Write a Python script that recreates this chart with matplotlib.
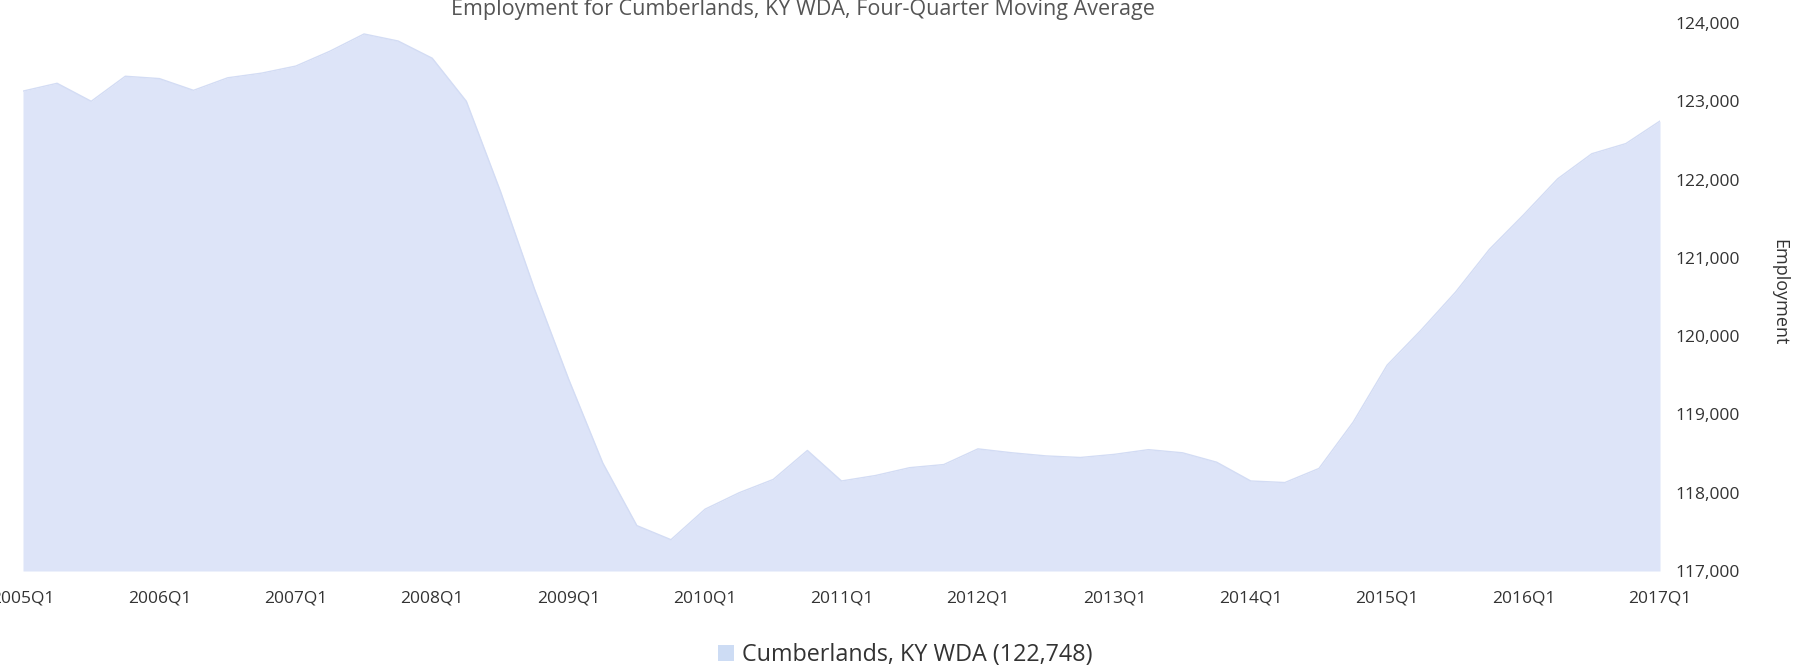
import matplotlib
matplotlib.use("Agg")
import matplotlib.pyplot as plt
from matplotlib.pyplot import rcParams
from matplotlib.patches import Patch

# use a humanist sans similar to the original web chart
rcParams["font.family"] = ["Open Sans", "DejaVu Sans"]

# quarter labels shown on the x axis (every fourth quarter)
years = list(range(2005, 2018))
tick_labels = [f"{y}Q1" for y in years]

# four-quarter moving average of employment, 2005Q1 .. 2017Q1
employment = [
  123130, 123230, 123000, 123320,  # 2005
  123290, 123140, 123300, 123360,  # 2006
  123450, 123640, 123860, 123770,  # 2007
  123550, 123000, 121850, 120600,  # 2008
  119450, 118380, 117580, 117400,  # 2009
  117790, 118000, 118170, 118540,  # 2010
  118150, 118220, 118320, 118360,  # 2011
  118560, 118510, 118470, 118450,  # 2012
  118490, 118550, 118510, 118390,  # 2013
  118150, 118130, 118310, 118900,  # 2014
  119630, 120080, 120560, 121110,  # 2015
  121550, 122010, 122330, 122460,  # 2016
  122748,                          # 2017
]
series_name = "Cumberlands, KY WDA"
quarters = list(range(len(employment)))

fig = plt.figure(figsize=(17.94, 6.67), dpi=100)
ax = fig.add_axes([23 / 1794, 96 / 667, 1637 / 1794, 548 / 667])

# the area itself
area_color = "#dde4f8"
ax.fill_between(quarters, employment, 117000, color=area_color, linewidth=0)
ax.plot(quarters, employment, color="#d3dcf4", linewidth=1)

ax.set_xlim(0, len(employment) - 1)
ax.set_ylim(117000, 124000)

# x ticks every year, the first label runs off the left edge like the original
ax.set_xticks(quarters[::4])
ax.set_xticklabels(tick_labels)

# y axis on the right with thousands separators
yticks = list(range(117000, 124001, 1000))
ax.yaxis.tick_right()
ax.set_yticks(yticks)
ax.set_yticklabels([f"{v:,}" for v in yticks])

ax.tick_params(axis="x", length=0, pad=14, labelsize=12.5, colors="#333333")
ax.tick_params(axis="y", length=0, pad=11, labelsize=12.5, colors="#333333")
for spine in ax.spines.values():
  spine.set_visible(False)

# title sits at the very top and is partly cut off
fig.text(803 / 1794, 1 - 15 / 667, "Employment for " + series_name + ", Four-Quarter Moving Average",
         ha="center", va="baseline", fontsize=15.5, color="#555555")

# right hand axis title
fig.text(1779 / 1794, 1 - 292 / 667, "Employment", rotation=270,
         ha="center", va="center", fontsize=13, color="#333333")

# legend with the last value
handle = Patch(facecolor="#cddcf4", edgecolor="none")
fig.legend([handle], [f"{series_name} ({employment[-1]:,})"], loc="center left",
           bbox_to_anchor=(706 / 1794, 1 - 655 / 667), frameon=False, borderpad=0,
           handlelength=0.7, handleheight=0.7, handletextpad=0.35,
           fontsize=16.8, labelcolor="#333333")

plt.savefig("out.png", dpi=100)
